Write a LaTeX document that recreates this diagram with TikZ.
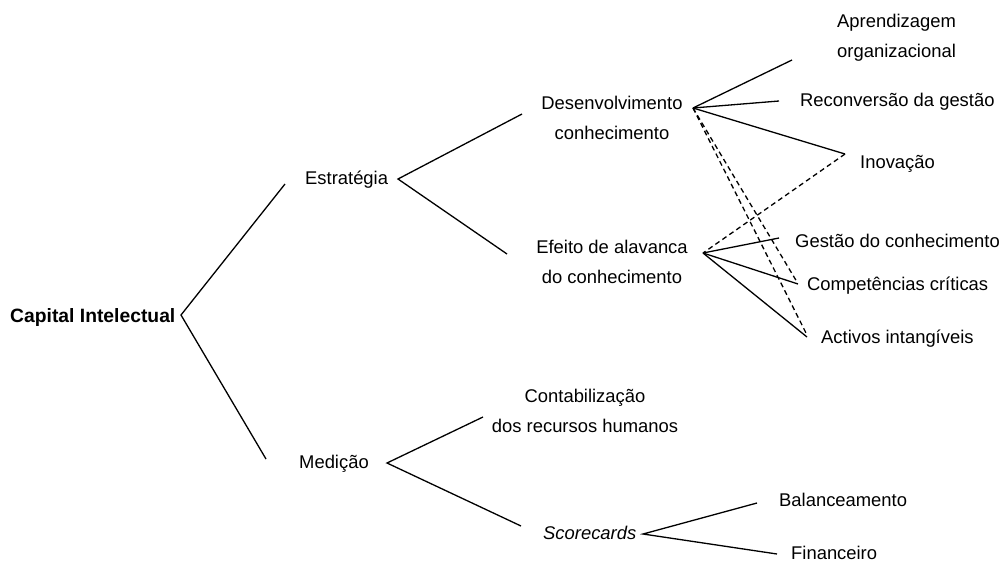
\documentclass[tikz,border=0pt]{standalone}
\usepackage{fontspec}
\setmainfont{Liberation Sans}
\begin{document}
\begin{tikzpicture}[x=1pt,y=-1pt,
  lbl/.style={inner sep=0pt,font=\fontsize{18.4}{30}\selectfont,align=center},
  conn/.style={line width=1.3pt},
  dconn/.style={line width=1.3pt,dash pattern=on 5pt off 3.5pt}]
\useasboundingbox (0,0) rectangle (1003,565);
% texts
\node[lbl,anchor=west,font=\fontsize{19.3}{30}\selectfont\bfseries] (ci) at (10,318) {Capital Intelectual};
\node[lbl,anchor=west] (est) at (305,180) {Estratégia};
\node[lbl,anchor=west] (med) at (299,464) {Medição};
\node[lbl] (des) at (612,118) {Desenvolvimento\\conhecimento};
\node[lbl] (efe) at (612,262) {Efeito de alavanca\\do conhecimento};
\node[lbl,anchor=west] (apr) at (837,38) {Aprendizagem\\organizacional};
\node[lbl,anchor=west] (rec) at (800,102) {Reconversão da gestão};
\node[lbl,anchor=west] (ino) at (860,164) {Inovação};
\node[lbl,anchor=west] (ges) at (795,241) {Gestão do conhecimento};
\node[lbl,anchor=west] (com) at (807,286) {Competências críticas};
\node[lbl,anchor=west] (act) at (821,339) {Activos intangíveis};
\node[lbl] (con) at (585,411) {Contabilização\\dos recursos humanos};
\node[lbl,anchor=west,font=\fontsize{18.4}{30}\selectfont\itshape] (sco) at (543,533) {Scorecards};
\node[lbl,anchor=west] (bal) at (779,500) {Balanceamento};
\node[lbl,anchor=west] (fin) at (791,553) {Financeiro};
% connector points
\coordinate (ciR) at (181,315);
\coordinate (estL) at (285,184);
\coordinate (medL) at (266,459);
\coordinate (estR) at (398,179);
\coordinate (desL) at (522,114);
\coordinate (efeL) at (507,254);
\coordinate (desR) at (693,108);
\coordinate (aprL) at (792,60);
\coordinate (recL) at (779,101);
\coordinate (inoL) at (845,154);
\coordinate (efeR) at (703,253);
\coordinate (gesL) at (779,238);
\coordinate (comL) at (798,284);
\coordinate (actL) at (807,337);
\coordinate (comL2) at (797,282);
\coordinate (actL2) at (806,333);
\coordinate (medR) at (387,463);
\coordinate (conL) at (483,417);
\coordinate (scoL) at (521,526);
\coordinate (scoR) at (643,534);
\coordinate (balL) at (757,503);
\coordinate (finL) at (777,554);
% connectors
\draw[conn] (estL) -- (ciR) -- (medL);
\draw[conn] (desL) -- (estR) -- (efeL);
\draw[conn] (desR) -- (aprL);
\draw[conn] (desR) -- (recL);
\draw[conn] (desR) -- (inoL);
\draw[dconn] (inoL) -- (efeR);
\draw[dconn] (desR) -- (comL2);
\draw[dconn] (desR) -- (actL2);
\draw[conn] (efeR) -- (gesL);
\draw[conn] (efeR) -- (comL);
\draw[conn] (efeR) -- (actL);
\draw[conn] (conL) -- (medR) -- (scoL);
\draw[conn] (balL) -- (scoR) -- (finL);
\end{tikzpicture}
\end{document}
